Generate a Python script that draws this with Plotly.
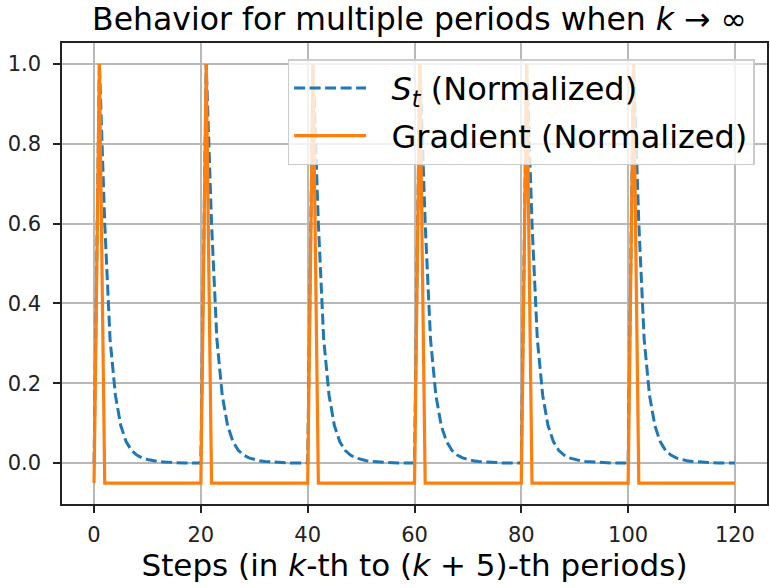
import plotly.graph_objects as go

# Steps covering six consecutive periods (period length 20)
steps = list(range(0, 121))

# One period of the normalized S_t, starting at the peak step
s_period = [1.0, 0.6, 0.31, 0.17, 0.094, 0.054, 0.032, 0.02, 0.013, 0.009,
            0.006, 0.004, 0.003, 0.002, 0.001, 0.001, 0.0, 0.0, 0.0, 0.0]
# One period of the normalized gradient, starting at the peak step
g_period = [1.0] + [-0.05] * 19

s_start = [0.0]      # tail of the preceding period at step 0
g_start = [-0.05]
n_periods = 6

s_values = s_start + s_period * n_periods
g_values = g_start + g_period * n_periods

x_ticks = [0, 20, 40, 60, 80, 100, 120]
y_ticks = [0.0, 0.2, 0.4, 0.6, 0.8, 1.0]

BLUE = "#1f77b4"
ORANGE = "#ff7f0e"
FONT = "DejaVu Sans"
GAP = "\u00a0\u00a0"  # spacing between legend line sample and label

fig = go.Figure()
fig.add_trace(go.Scatter(
    x=steps, y=s_values, mode="lines",
    name=GAP + "<i>S<sub>t</sub></i> (Normalized)",
    legendgroup="s",
    line=dict(color=BLUE, width=3, dash="11px,4.5px"),
))
fig.add_trace(go.Scatter(
    x=steps, y=g_values, mode="lines",
    name=GAP + "Gradient (Normalized)",
    legendgroup="g",
    line=dict(color=ORANGE, width=3.2),
))

axis_common = dict(
    showline=True, mirror=True, linecolor="#222222", linewidth=1.5,
    ticks="outside", ticklen=7, tickwidth=1.5, tickcolor="#222222",
    showgrid=True, gridcolor="#b8b8b8", gridwidth=1.5,
    zeroline=False,
    tickfont=dict(family=FONT, size=21, color="#222222"),
)

fig.update_xaxes(
    range=[-6, 126], tickvals=x_ticks,
    title=dict(text="Steps (in <i>k</i>-th to (<i>k</i> + 5)-th periods)",
               font=dict(family=FONT, size=31, color="black"), standoff=5),
    ticklabelstandoff=4,
    **axis_common,
)
fig.update_yaxes(
    range=[-0.1025, 1.0525], tickvals=y_ticks, tickformat=".1f",
    ticklabelstandoff=8,
    **axis_common,
)

fig.update_layout(
    width=770, height=588,
    margin=dict(l=62, r=1, t=43, b=84),
    plot_bgcolor="white", paper_bgcolor="white",
    title=dict(text="Behavior for multiple periods when <i>k</i> → ∞",
               font=dict(family=FONT, size=31.5, color="black"),
               x=0.507, xref="paper", xanchor="center",
               y=1 - 19 / 588, yref="container", yanchor="middle"),
    legend=dict(
        x=0.32, y=0.965, xanchor="left", yanchor="top",
        bgcolor="rgba(255,255,255,0.8)", bordercolor="#cccccc", borderwidth=1.5,
        font=dict(family=FONT, size=32, color="black"),
        itemwidth=72, tracegroupgap=3,
    ),
    showlegend=True,
)

fig.write_html("out.html")
